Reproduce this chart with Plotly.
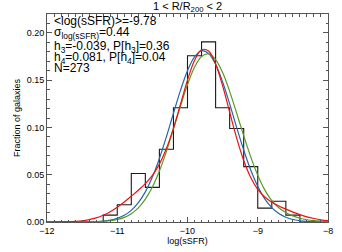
import plotly.graph_objects as go

# Histogram (fraction of galaxies per 0.2-dex bin), bin left edges
bin_left = [-12.0, -11.8, -11.6, -11.4, -11.2, -11.0, -10.8, -10.6, -10.4, -10.2,
            -10.0, -9.8, -9.6, -9.4, -9.2, -9.0, -8.8, -8.6, -8.4, -8.2]
bin_width = 0.2
hist_frac = [0.0, 0.0, 0.0, 0.0, 0.0073, 0.0183, 0.0513, 0.0366, 0.0769, 0.1209,
             0.1758, 0.1905, 0.1209, 0.0989, 0.0586, 0.0147, 0.0220, 0.0073, 0.0, 0.0]

# Fitted curves sampled on a common grid
curve_x = [-12.0, -11.9, -11.8, -11.7, -11.6, -11.5, -11.4, -11.3, -11.2, -11.1,
           -11.0, -10.9, -10.8, -10.7, -10.6, -10.5, -10.4, -10.3, -10.2, -10.1,
           -10.0, -9.9, -9.8, -9.7, -9.6, -9.5, -9.4, -9.3, -9.2, -9.1,
           -9.0, -8.9, -8.8, -8.7, -8.6, -8.5, -8.4, -8.3, -8.2, -8.1, -8.0]
blue_y = [0.0, 0.0, 0.0, 0.0, 0.00003, 0.0001, 0.0002, 0.0005, 0.0010, 0.0020,
          0.0039, 0.0071, 0.0123, 0.0204, 0.0319, 0.0475, 0.0672, 0.0902, 0.1150, 0.1392,
          0.1600, 0.1747, 0.1811, 0.1783, 0.1667, 0.1481, 0.1249, 0.1000, 0.0761, 0.0549,
          0.0377, 0.0245, 0.0152, 0.0089, 0.0050, 0.0026, 0.0013, 0.0006, 0.0003, 0.0001, 0.0]
green_y = [0.0, 0.0, 0.0, 0.0, 0.0, 0.00005, 0.0001, 0.0003, 0.0006, 0.0013,
           0.0026, 0.0049, 0.0088, 0.0149, 0.0241, 0.0370, 0.0539, 0.0747, 0.0982, 0.1226,
           0.1454, 0.1637, 0.1751, 0.1778, 0.1718, 0.1580, 0.1382, 0.1151, 0.0913, 0.0689,
           0.0495, 0.0340, 0.0225, 0.0150, 0.0100, 0.0065, 0.0040, 0.0024, 0.0014, 0.0008, 0.0004]
red_y = [0.0, 0.0001, 0.0001, 0.0003, 0.0007, 0.0013, 0.0025, 0.0043, 0.0071, 0.0109,
         0.0157, 0.0212, 0.0273, 0.0336, 0.0406, 0.0493, 0.0612, 0.0777, 0.0993, 0.1246,
         0.1501, 0.1709, 0.1822, 0.1809, 0.1672, 0.1440, 0.1162, 0.0887, 0.0651, 0.0471,
         0.0345, 0.0265, 0.0210, 0.0170, 0.0136, 0.0105, 0.0078, 0.0055, 0.0037, 0.0023, 0.0014]

stats_lines = [
    "&lt;log(sSFR)&gt;=-9.78",
    "σ<sub>log(sSFR)</sub>=0.44",
    "h<sub>3</sub>=-0.039, P[h<sub>3</sub>]=0.36",
    "h<sub>4</sub>=0.081, P[h<sub>4</sub>]=0.04",
    "N=273",
]
title_text = "1 &lt; R/R<sub>200</sub> &lt; 2"

FONT = "Liberation Sans, Arial, sans-serif"

# step outline of histogram
hx = bin_left + [bin_left[-1] + bin_width]
hy = hist_frac + [hist_frac[-1]]

fig = go.Figure()
fig.add_trace(go.Scatter(x=hx, y=hy, mode="lines", line=dict(color="#1a1a1a", width=1.1, shape="hv"),
                         showlegend=False, hoverinfo="skip"))
fig.add_trace(go.Scatter(x=curve_x, y=blue_y, mode="lines",
                         line=dict(color="#2466a8", width=1.2, shape="spline"), showlegend=False))
fig.add_trace(go.Scatter(x=curve_x, y=green_y, mode="lines",
                         line=dict(color="#5a9a22", width=1.2, shape="spline"), showlegend=False))
fig.add_trace(go.Scatter(x=curve_x, y=red_y, mode="lines",
                         line=dict(color="#ee1111", width=1.2, shape="spline"), showlegend=False))

axis_common = dict(showline=True, linecolor="#555", linewidth=1, mirror="allticks",
                   ticks="inside", ticklen=5, tickcolor="#555", tickwidth=1,
                   showgrid=False, zeroline=False, automargin=False,
                   tickfont=dict(family=FONT, size=9, color="black"))

fig.update_xaxes(range=[-12, -8], dtick=1, tick0=-12,
                 minor=dict(ticks="inside", ticklen=2.5, dtick=0.1, tickcolor="#555", showgrid=False),
                 title=dict(text="log(sSFR)", font=dict(family=FONT, size=9, color="black"), standoff=1),
                 **axis_common)
fig.update_yaxes(range=[0, 0.22], dtick=0.05, tick0=0, tickformat=".2f",
                 minor=dict(ticks="inside", ticklen=2.5, dtick=0.01, tickcolor="#555", showgrid=False),
                 title=dict(text="Fraction of galaxies", font=dict(family=FONT, size=9, color="black"), standoff=4),
                 **axis_common)

annotations = [dict(text=title_text, x=0.5, y=1.0, xref="paper", yref="paper", xanchor="center",
                    yanchor="middle", yshift=7, showarrow=False,
                    font=dict(family=FONT, size=11, color="black"))]
line_y = [21, 33, 47, 58, 68]
W, H = 342, 252
ml, mr, mt, mb = 47, 14, 14, 30
pw, ph = W - ml - mr, H - mt - mb
for t, yy in zip(stats_lines, line_y):
    annotations.append(dict(text=t, x=(52 - ml) / pw, y=1 - (yy - mt) / ph,
                            xref="paper", yref="paper", showarrow=False,
                            xanchor="left", yanchor="middle",
                            font=dict(family=FONT, size=12, color="black")))

fig.update_layout(width=W, height=H, margin=dict(l=ml, r=mr, t=mt, b=mb),
                  paper_bgcolor="white", plot_bgcolor="white", annotations=annotations,
                  hovermode=False)

fig.write_html("out.html", config={"displayModeBar": False, "staticPlot": True},
               post_script="document.body.style.margin='0';document.body.style.padding='0';")
